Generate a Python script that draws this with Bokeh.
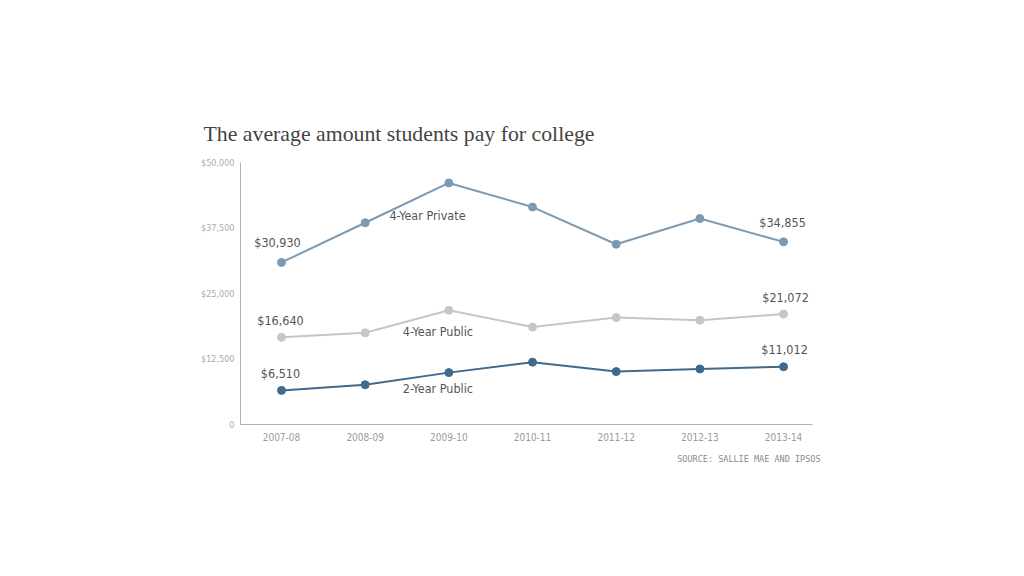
from bokeh.plotting import figure
from bokeh.models import Range1d, FixedTicker, Label, Title
from bokeh.embed import file_html
from bokeh.resources import INLINE

# ---- data ----
years = ["2007-08", "2008-09", "2009-10", "2010-11", "2011-12", "2012-13", "2013-14"]
private4 = [30930, 38500, 46100, 41500, 34400, 39300, 34855]
public4 = [16640, 17500, 21800, 18600, 20400, 19900, 21072]
public2 = [6510, 7600, 9900, 11900, 10100, 10600, 11012]
y_ticks = [0, 12500, 25000, 37500, 50000]
title_text = "The average amount students pay for college"
source_text = "SOURCE: SALLIE MAE AND IPSOS"

series = [
    ("4-Year Private", private4, "#7b9ab3"),
    ("4-Year Public", public4, "#c6c6c6"),
    ("2-Year Public", public2, "#3f6a8e"),
]

xs = list(range(len(years)))

p = figure(
    frame_width=572, frame_height=262,
    min_border_left=240, min_border_right=196,
    min_border_top=162, min_border_bottom=136,
    x_range=Range1d(-0.49, 6.346), y_range=Range1d(0, 50000),
    output_backend="svg", toolbar_location=None,
)
p.outline_line_color = None
p.xgrid.visible = False
p.ygrid.visible = False
p.background_fill_color = "white"
p.border_fill_color = "white"

NARROW = "DejaVu Sans Condensed"

# x axis
p.xaxis.ticker = FixedTicker(ticks=xs)
p.xaxis.major_label_overrides = {i: y for i, y in zip(xs, years)}
p.xaxis.axis_line_color = "#b0b0b0"
p.xaxis.major_tick_line_color = None
p.xaxis.minor_tick_line_color = None
p.xaxis.major_label_text_font = NARROW
p.xaxis.major_label_text_font_size = "10px"
p.xaxis.major_label_text_color = "#9a9a9a"
p.xaxis.major_label_standoff = 2

# y axis
p.yaxis.ticker = FixedTicker(ticks=y_ticks)
p.yaxis.major_label_overrides = {t: ("0" if t == 0 else "${:,}".format(t)) for t in y_ticks}
p.yaxis.axis_line_color = "#b0b0b0"
p.yaxis.major_tick_line_color = None
p.yaxis.minor_tick_line_color = None
p.yaxis.major_label_text_font = NARROW
p.yaxis.major_label_text_font_size = "9px"
p.yaxis.major_label_text_color = "#ababab"
p.yaxis.major_label_standoff = 0

for name, vals, color in series:
    p.line(xs, vals, line_color=color, line_width=2)
    p.scatter(xs, vals, size=8, fill_color=color, line_color=color)

ann_color = "#555555"
ann_font_size = "12.5px"

def add_label(x, y, text, x_off=0, y_off=0, align="center"):
    p.add_layout(Label(x=x, y=y, text=text, x_offset=x_off, y_offset=y_off,
                       text_font=NARROW, text_font_size=ann_font_size,
                       text_color=ann_color, text_align=align,
                       text_baseline="middle"))

# first / last value labels
first_offsets = [(-4, 20), (-1, 17), (-1, 17)]
last_offsets = [(-1, 19), (2, 17), (1, 17)]
for (name, vals, color), fo, lo in zip(series, first_offsets, last_offsets):
    add_label(xs[0], vals[0], "${:,}".format(vals[0]), fo[0], fo[1])
    add_label(xs[-1], vals[-1], "${:,}".format(vals[-1]), lo[0], lo[1])

# series name labels
add_label(1.29, 39900, series[0][0], align="left")
add_label(1.45, 17750, series[1][0], align="left")
add_label(1.45, 6870, series[2][0], align="left")

# title
p.add_layout(Title(text=title_text, align="left", offset=-37, standoff=33,
                   text_font="Liberation Serif", text_font_size="21.8px",
                   text_color="#444444", text_font_style="normal"), "above")

# source
p.add_layout(Title(text=source_text, align="right", offset=-8, standoff=16,
                   text_font="DejaVu Sans Mono", text_font_size="8.5px",
                   text_color="#8a8a8a", text_font_style="normal"), "below")

open("out.html", "w").write(file_html(p, INLINE))
